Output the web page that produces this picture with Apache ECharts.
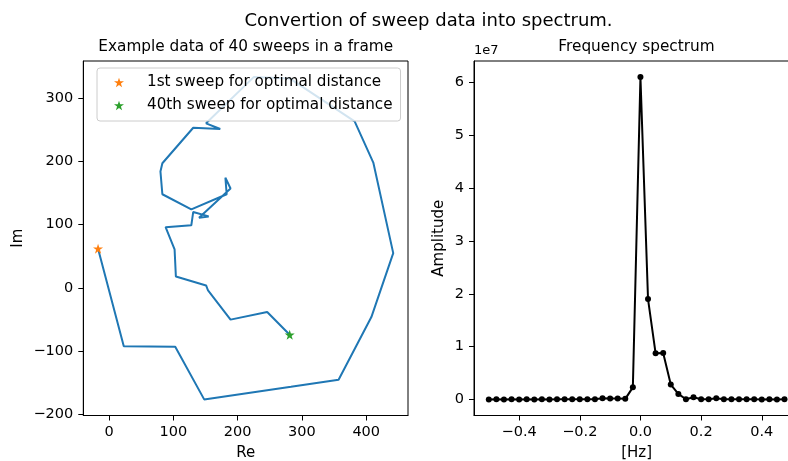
<!DOCTYPE html>
<html><head><meta charset="utf-8">
<script src="https://cdn.jsdelivr.net/npm/echarts@6/dist/echarts.min.js"></script>
<style>html,body{margin:0;padding:0;background:#fff}#c{width:788px;height:461px}</style>
</head><body><div id="c"></div>
<script>
// ---- data ----
const sweepRe = [-17, 23, 103, 148, 283, 357, 408, 442, 411, 382, 281, 225, 151, 173, 131, 83, 80, 83, 128, 183, 181, 189, 140, 155, 131, 128, 88, 102, 105, 104, 151, 154, 189, 246, 281];
const sweepIm = [62, -92, -93, -176, -156, -145, -46, 55, 198, 263, 331, 333, 260, 251, 253, 197, 184, 148, 124, 148, 174, 157, 111, 113, 120, 99, 96, 61, 60, 18, 4, -4, -50, -38, -74];
const freqHz = [-0.5, -0.475, -0.45, -0.425, -0.4, -0.375, -0.35, -0.325, -0.3, -0.275, -0.25, -0.225, -0.2, -0.175, -0.15, -0.125, -0.1, -0.075, -0.05, -0.025, 0, 0.025, 0.05, 0.075, 0.1, 0.125, 0.15, 0.175, 0.2, 0.225, 0.25, 0.275, 0.3, 0.325, 0.35, 0.375, 0.4, 0.425, 0.45, 0.475];
const amplitude = [2e4, 3e4, 2e4, 3e4, 2e4, 3e4, 2e4, 3e4, 2e4, 3e4, 4e4, 3e4, 5e4, 4e4, 6e4, 2.5e5, 2e5, 2e5, 1.2e5, 2.3e6, 6.1e7, 1.9e7, 8.73e6, 8.8e6, 2.83e6, 1.06e6, 5e4, 4.3e5, 5e4, 6e4, 2.5e5, 5e4, 4e4, 3e4, 4e4, 3e4, 2e4, 3e4, 2e4, 3e4];
const reTicks = [0, 100, 200, 300, 400];
const imTicks = [-200, -100, 0, 100, 200, 300];
const hzTicks = [-0.4, -0.2, 0, 0.2, 0.4];
const ampTicks = [0, 1e7, 2e7, 3e7, 4e7, 5e7, 6e7];
const legendNames = ['1st sweep for optimal distance', '40th sweep for optimal distance'];

// ---- helpers ----
function padRange(arr) {
  const mn = Math.min(...arr), mx = Math.max(...arr), m = (mx - mn) * 0.05;
  return [mn - m, mx + m];
}
const minus = s => String(s).replace('-', '\u2212');
const STAR = 'path://M50,0 L61.2,34.5 L97.6,34.5 L68.2,55.9 L79.4,90.5 L50,69.1 L20.6,90.5 L31.8,55.9 L2.4,34.5 L38.8,34.5 Z';
const FONT = 'DejaVu Sans';
const reR = padRange(sweepRe), imR = padRange(sweepIm);
const hzR = padRange(freqHz), ampR = padRange(amplitude);
const sweepPts = sweepRe.map((v, i) => [v, sweepIm[i]]);
const specPts = freqHz.map((v, i) => [v, amplitude[i]]);
const last = sweepRe.length - 1;

function axisCommon(extra) {
  return Object.assign({
    type: 'value',
    splitLine: { show: false },
    axisLine: { show: true, onZero: false, lineStyle: { color: '#000', width: 1 } },
    nameTextStyle: { fontFamily: FONT, fontSize: 15, color: '#000' }
  }, extra);
}

const chart = echarts.init(document.getElementById('c'), null, { renderer: 'canvas' });
chart.setOption({
  animation: false,
  backgroundColor: '#fff',
  textStyle: { fontFamily: FONT },
  graphic: [
    { type: 'text', x: 428.5, y: 21, style: { text: 'Convertion of sweep data into spectrum.', font: '18px "DejaVu Sans"', fill: '#000', textAlign: 'center', textVerticalAlign: 'middle' } },
    { type: 'text', x: 245.7, y: 47, style: { text: 'Example data of 40 sweeps in a frame', font: '15.3px "DejaVu Sans"', fill: '#000', textAlign: 'center', textVerticalAlign: 'middle' } },
    { type: 'text', x: 636.5, y: 47, style: { text: 'Frequency spectrum', font: '15.3px "DejaVu Sans"', fill: '#000', textAlign: 'center', textVerticalAlign: 'middle' } },
    { type: 'text', x: 474, y: 51, style: { text: '1e7', font: '13px "DejaVu Sans"', fill: '#000', textAlign: 'left', textVerticalAlign: 'middle' } }
  ],
  grid: [
    { left: 83.3, right: 380, top: 61, bottom: 45.5, show: true, borderColor: '#000', borderWidth: 1, containLabel: false, outerBoundsMode: 'none' },
    { left: 474, right: -11.3, top: 61, bottom: 45.5, show: true, borderColor: '#000', borderWidth: 1, containLabel: false, outerBoundsMode: 'none' }
  ],
  legend: {
    orient: 'vertical', left: 97, top: 68,
    padding: [7, 8, 8, 17], itemGap: 8, itemWidth: 10, itemHeight: 10,
    backgroundColor: 'rgba(255,255,255,0.8)', borderColor: '#cccccc', borderWidth: 1, borderRadius: 3,
    textStyle: { fontFamily: FONT, fontSize: 15.2, color: '#000', lineHeight: 15, padding: [0, 0, 0, 18] },
    data: [{ name: legendNames[0], icon: STAR }, { name: legendNames[1], icon: STAR }],
    selectedMode: false, z: 10
  },
  xAxis: [
    axisCommon({
      gridIndex: 0, min: reR[0], max: reR[1], name: 'Re', nameLocation: 'middle', nameGap: 30,
      axisTick: { show: true, length: 5, customValues: reTicks, lineStyle: { color: '#000' } },
      axisLabel: { customValues: reTicks, margin: 9, fontFamily: FONT, fontSize: 14.5, color: '#000', formatter: v => minus(v) }
    }),
    axisCommon({
      gridIndex: 1, min: hzR[0], max: hzR[1], name: '[Hz]', nameLocation: 'middle', nameGap: 30,
      axisTick: { show: true, length: 5, customValues: hzTicks, lineStyle: { color: '#000' } },
      axisLabel: { customValues: hzTicks, margin: 9, fontFamily: FONT, fontSize: 14.5, color: '#000', formatter: v => minus(Number(v).toFixed(1)) }
    })
  ],
  yAxis: [
    axisCommon({
      gridIndex: 0, min: imR[0], max: imR[1], name: 'Im', nameLocation: 'middle', nameGap: 58,
      axisTick: { show: true, length: 5, customValues: imTicks, lineStyle: { color: '#000' } },
      axisLabel: { customValues: imTicks, margin: 10, fontFamily: FONT, fontSize: 14.5, color: '#000', formatter: v => minus(v) }
    }),
    axisCommon({
      gridIndex: 1, min: ampR[0], max: ampR[1], name: 'Amplitude', nameLocation: 'middle', nameGap: 27,
      axisTick: { show: true, length: 5, customValues: ampTicks, lineStyle: { color: '#000' } },
      axisLabel: { customValues: ampTicks, margin: 10, fontFamily: FONT, fontSize: 14.5, color: '#000', formatter: v => String(Math.round(v / 1e7)) }
    })
  ],
  series: [
    { type: 'line', xAxisIndex: 0, yAxisIndex: 0, data: sweepPts, symbol: 'none', color: '#1f77b4', lineStyle: { width: 2, color: '#1f77b4' }, z: 2, silent: true },
    { name: legendNames[0], type: 'scatter', xAxisIndex: 0, yAxisIndex: 0, data: [sweepPts[0]], symbol: STAR, symbolSize: 10, itemStyle: { color: '#ff7f0e', opacity: 1 }, z: 3 },
    { name: legendNames[1], type: 'scatter', xAxisIndex: 0, yAxisIndex: 0, data: [sweepPts[last]], symbol: STAR, symbolSize: 10, itemStyle: { color: '#2ca02c', opacity: 1 }, z: 3 },
    { type: 'line', xAxisIndex: 1, yAxisIndex: 1, data: specPts, symbol: 'circle', symbolSize: 6, showSymbol: true, color: '#000', itemStyle: { color: '#000' }, lineStyle: { width: 2, color: '#000' }, z: 2, silent: true }
  ]
});
</script>
</body></html>
